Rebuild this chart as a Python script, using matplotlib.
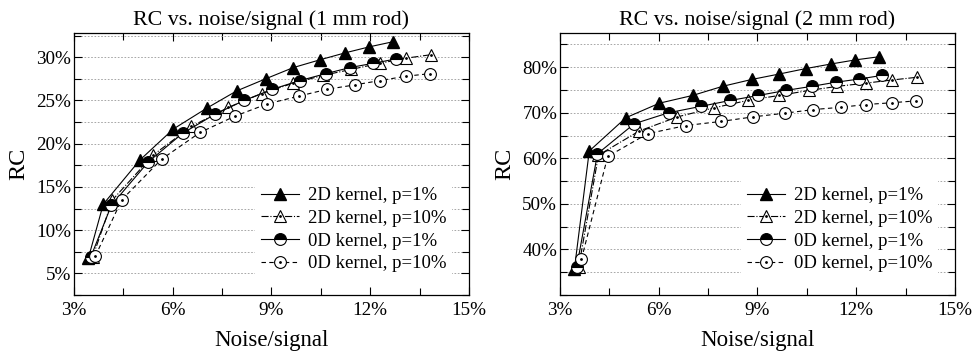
"""RC vs. noise/signal — 1 mm and 2 mm rod"""
import matplotlib
matplotlib.use("Agg")
import matplotlib.pyplot as plt
from matplotlib.ticker import MultipleLocator, FixedLocator, FuncFormatter
from matplotlib.legend_handler import HandlerTuple

plt.rcParams["font.family"] = ["Liberation Serif", "DejaVu Serif"]

# ───── Data (noise/signal %, RC %) ─────────────────────────────────────────
noise_2d_p1 = [3.44, 3.89, 5.00, 6.02, 7.03, 7.94, 8.82, 9.66, 10.47, 11.23, 11.97, 12.70]
noise_2d_p10 = [3.57, 4.17, 5.41, 6.57, 7.69, 8.70, 9.66, 10.57, 11.43, 12.29, 13.10, 13.86]
noise_0d_p1 = [3.51, 4.14, 5.26, 6.30, 7.28, 8.17, 9.03, 9.86, 10.65, 11.38, 12.09, 12.78]
noise_0d_p10 = [3.65, 4.45, 5.66, 6.83, 7.90, 8.87, 9.83, 10.70, 11.53, 12.29, 13.08, 13.81]

rc1_2d_p1 = [6.8, 13.0, 18.1, 21.7, 24.1, 26.1, 27.5, 28.8, 29.7, 30.5, 31.2, 31.8]
rc1_2d_p10 = [6.9, 13.5, 18.7, 22.0, 24.2, 25.8, 27.0, 27.9, 28.6, 29.3, 29.9, 30.3]
rc1_0d_p1 = [6.9, 12.9, 17.9, 21.2, 23.4, 25.0, 26.3, 27.3, 28.1, 28.8, 29.3, 29.8]
rc1_0d_p10 = [7.0, 13.5, 18.2, 21.3, 23.2, 24.6, 25.5, 26.3, 26.8, 27.3, 27.8, 28.1]

rc2_2d_p1 = [35.8, 61.6, 68.9, 72.1, 73.8, 75.8, 77.3, 78.5, 79.7, 80.7, 81.6, 82.3]
rc2_2d_p10 = [36.2, 60.7, 66.0, 69.1, 71.1, 72.7, 73.8, 74.9, 75.8, 76.5, 77.2, 77.8]
rc2_0d_p1 = [36.2, 61.0, 67.6, 70.0, 71.4, 72.7, 73.8, 74.9, 75.8, 76.7, 77.4, 78.2]
rc2_0d_p10 = [37.8, 60.4, 65.4, 67.2, 68.1, 69.1, 69.9, 70.7, 71.2, 71.8, 72.2, 72.6]

# labelled y ticks per panel
yticks1 = [5, 10, 15, 20, 25, 30]
yticks2 = [40, 50, 60, 70, 80]

labels = ["2D kernel, p=1%", "2D kernel, p=10%", "0D kernel, p=1%", "0D kernel, p=10%"]

pct = FuncFormatter(lambda v, _: f"{v:g}%")


def draw_panel(ax, series, title, ylim, yticks, yminor):
    handles = []
    lw = 0.8
    # 2D p=1%: filled triangle, solid
    x, y = series[0]
    h, = ax.plot(x, y, "-", color="black", lw=lw, marker="^", ms=9,
                 mfc="black", mec="black")
    handles.append(h)
    # 2D p=10%: open triangle with dot, dash-dot
    x, y = series[1]
    h1, = ax.plot(x, y, "-.", color="black", lw=lw, marker="^", ms=9,
                  mfc="white", mec="black", mew=0.8)
    h2, = ax.plot(x, y, ls="none", marker=".", ms=2, color="black")
    handles.append((h1, h2))
    # 0D p=1%: half-filled circle, solid
    x, y = series[2]
    h, = ax.plot(x, y, "-", color="black", lw=lw, marker="o", ms=8.5,
                 fillstyle="top", mfc="black", mfcalt="white", mec="black", mew=0.8)
    handles.append(h)
    # 0D p=10%: open circle with dot, dashed
    x, y = series[3]
    h1, = ax.plot(x, y, "--", color="black", lw=lw, marker="o", ms=8.5,
                  mfc="white", mec="black", mew=0.8, dashes=(4, 3))
    h2, = ax.plot(x, y, ls="none", marker=".", ms=2, color="black")
    handles.append((h1, h2))

    ax.set_xlim(3, 15)
    ax.set_ylim(*ylim)
    ax.xaxis.set_major_locator(MultipleLocator(3))
    ax.xaxis.set_minor_locator(MultipleLocator(1.5))
    ax.yaxis.set_major_locator(FixedLocator(yticks))
    ax.yaxis.set_minor_locator(MultipleLocator(yminor))
    ax.xaxis.set_major_formatter(pct)
    ax.yaxis.set_major_formatter(pct)
    ax.tick_params(which="both", direction="in", top=True, right=True,
                   labelsize=13.8, width=0.8)
    ax.tick_params(which="major", length=6)
    ax.tick_params(which="minor", length=5)
    ax.tick_params(axis="x", which="major", pad=5)
    ax.tick_params(axis="y", which="major", pad=2)
    ax.grid(True, axis="y", which="both", ls=(0, (2, 2)), lw=0.6, color="#999999")
    ax.set_axisbelow(True)
    for s in ax.spines.values():
        s.set_linewidth(0.9)

    ax.set_title(title, fontsize=15.8, pad=6)
    ax.set_xlabel("Noise/signal", fontsize=16.5, labelpad=8)
    ax.set_ylabel("RC", fontsize=17.5, labelpad=5)

    leg = ax.legend(handles, labels, loc="lower right", fontsize=13.5,
                    handler_map={tuple: HandlerTuple(ndivide=1)},
                    handlelength=2.0, handletextpad=0.5, labelspacing=0.3,
                    borderaxespad=0.9, borderpad=0.3, frameon=True, fancybox=False)
    leg.get_frame().set_edgecolor("none")
    leg.get_frame().set_facecolor("white")
    leg.get_frame().set_alpha(1.0)


fig = plt.figure(figsize=(9.72, 3.54), dpi=100)
ax1 = fig.add_axes([0.0761, 0.1667, 0.4064, 0.740])
ax2 = fig.add_axes([0.5761, 0.1667, 0.4064, 0.740])

draw_panel(ax1,
           [(noise_2d_p1, rc1_2d_p1), (noise_2d_p10, rc1_2d_p10),
            (noise_0d_p1, rc1_0d_p1), (noise_0d_p10, rc1_0d_p10)],
           "RC vs. noise/signal (1 mm rod)", (2.5, 32.8), yticks1, 2.5)
draw_panel(ax2,
           [(noise_2d_p1, rc2_2d_p1), (noise_2d_p10, rc2_2d_p10),
            (noise_0d_p1, rc2_0d_p1), (noise_0d_p10, rc2_0d_p10)],
           "RC vs. noise/signal (2 mm rod)", (30, 87.5), yticks2, 5)

fig.savefig("out.png", dpi=100)
plt.close(fig)
